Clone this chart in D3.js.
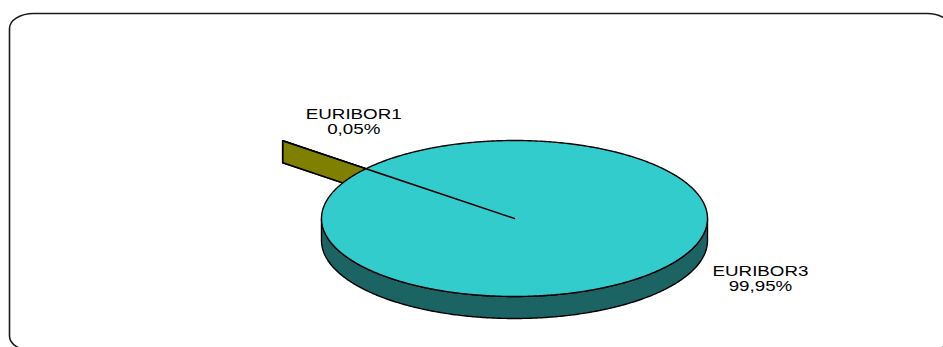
<!DOCTYPE html>
<html><head><meta charset="utf-8">
<script src="https://cdn.jsdelivr.net/npm/d3@7"></script>
<style>html,body{margin:0;padding:0;background:#fff;} svg{display:block}</style>
</head><body><svg id="c" width="943" height="347"></svg>
<script>
// ---- data ----
const categories = ["EURIBOR1", "EURIBOR3"];
const values = [0.05, 99.95];
const valueLabels = ["0,05%", "99,95%"];
const explode = [0.56, 0];
const topColors = ["#808000", "#33CCCC"];
const sideColors = ["#808000", "#1C6464"];

// ---- layout ----
const W = 943, H = 347;
const cx = 514.5, cy = 218.5, rx = 193, ry = 78, depth = 22;
const startA = -0.88;

const svg = d3.select("#c");

svg.append("rect")
  .attr("x", 9.5).attr("y", 13.5).attr("width", 941.5).attr("height", 337.5)
  .attr("rx", 24).attr("ry", 15)
  .attr("fill", "none").attr("stroke", "#1a1a1a").attr("stroke-width", 1.6);

const pie = d3.pie().sort(null).value(d => d)
  .startAngle(startA).endAngle(startA + 2 * Math.PI);
const arcs = pie(values).map((a, i) => {
  const mid = (a.startAngle + a.endAngle) / 2;
  const e = explode[i];
  return Object.assign(a, {
    i, mid,
    ox: rx * e * Math.sin(mid),
    oy: -ry * e * Math.cos(mid)
  });
});

function P(a, ang, r, dz) {
  return [cx + a.ox + rx * r * Math.sin(ang), cy + a.oy - ry * r * Math.cos(ang) + dz];
}
const line = d3.line();

function sample(a0, a1) {
  const n = Math.max(2, Math.ceil(Math.abs(a1 - a0) / 0.01));
  return d3.range(n + 1).map(k => a0 + (a1 - a0) * k / n);
}

function drawSlice(g, a) {
  const c = a.i;
  // radial faces
  [a.startAngle, a.endAngle].forEach(ang => {
    const pts = [P(a, ang, 0, 0), P(a, ang, 1, 0), P(a, ang, 1, depth), P(a, ang, 0, depth)];
    g.append("path").attr("d", line(pts) + "Z")
      .attr("fill", sideColors[c]).attr("stroke", "#000").attr("stroke-width", 1.4)
      .attr("stroke-linejoin", "round");
  });
  // outer wall: visible where facing viewer (angles in [PI/2, 3PI/2] mod 2PI)
  for (let k = -1; k <= 1; k++) {
    const lo = Math.max(a.startAngle, Math.PI / 2 + 2 * Math.PI * k);
    const hi = Math.min(a.endAngle, 1.5 * Math.PI + 2 * Math.PI * k);
    if (hi > lo) {
      const angs = sample(lo, hi);
      const topPts = angs.map(t => P(a, t, 1, 0));
      const botPts = angs.slice().reverse().map(t => P(a, t, 1, depth));
      g.append("path").attr("d", line(topPts.concat(botPts)) + "Z")
        .attr("fill", sideColors[c]).attr("stroke", "#000").attr("stroke-width", 1.4)
        .attr("stroke-linejoin", "round");
    }
  }
  // top face
  const tp = [P(a, 0, 0, 0)].concat(sample(a.startAngle, a.endAngle).map(t => P(a, t, 1, 0)));
  g.append("path").attr("d", line(tp) + "Z")
    .attr("fill", topColors[c]).attr("stroke", "#000").attr("stroke-width", 1.4)
    .attr("stroke-linejoin", "round");
}

const g = svg.append("g");
// back (exploded small) slice first, then the large slice
drawSlice(g, arcs[0]);
drawSlice(g, arcs[1]);

// ---- labels ----
function label(xc, yb, i) {
  const t = svg.append("g");
  [categories[i], valueLabels[i]].forEach((s, k) => {
    const tx = t.append("text")
      .attr("x", xc).attr("y", yb + k * 15)
      .attr("text-anchor", "middle")
      .attr("font-family", "'Liberation Sans', Arial, sans-serif")
      .attr("font-size", 14).attr("fill", "#000")
      .text(s);
    const w = tx.node().getComputedTextLength();
    tx.attr("textLength", w * 1.34).attr("lengthAdjust", "spacingAndGlyphs");
  });
}
const outer0 = P(arcs[0], arcs[0].mid, 1, 0);
label(outer0[0] + 71, outer0[1] - 22, 0);
label(cx + rx + 53, cy + 57, 1);
</script></body></html>
